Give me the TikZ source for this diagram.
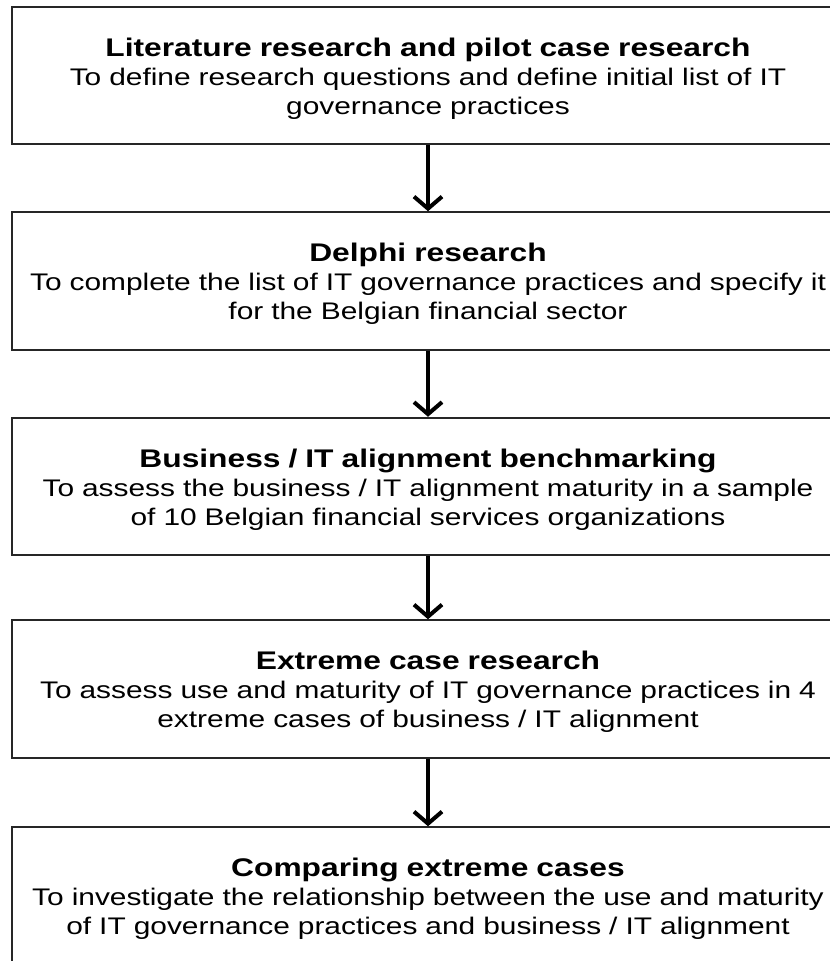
\documentclass[tikz,border=0pt]{standalone}
\usepackage{fontspec}
\setmainfont{Liberation Sans}[FakeStretch=1.245]
\usetikzlibrary{positioning}
\usetikzlibrary{arrows.meta}

\tikzset{
  stagebox/.style={draw=black!85, line width=2bp, fill=white, minimum width=832bp, minimum height=137.5bp, text width=828bp, align=center, inner sep=0pt, font=\fontsize{24bp}{29bp}\selectfont},
  stagearrow/.style={line width=4bp, -{Straight Barb[length=12bp,width=28bp]}}
}
\newcommand{\stagetitle}[1]{{\fontsize{25.5bp}{29bp}\selectfont\bfseries\rule{0pt}{24.5bp}#1}}

\begin{document}
\begin{tikzpicture}[x=1bp,y=-1bp]
\useasboundingbox (0,0) rectangle (830,961);
\node[stagebox] (lit) at (428,75.5) {\stagetitle{Literature research and pilot case research}\\To define research questions and define initial list of IT\\governance practices};
\node[stagebox] (delphi) at (428,281) {\stagetitle{Delphi research}\\To complete the list of IT governance practices and specify it\\for the Belgian financial sector};
\node[stagebox] (bench) at (428,486.5) {\stagetitle{Business / IT alignment benchmarking}\\To assess the business / IT alignment maturity in a sample\\of 10 Belgian financial services organizations};
\node[stagebox] (extreme) at (428,689) {\stagetitle{Extreme case research}\\To assess use and maturity of IT governance practices in 4\\extreme cases of business / IT alignment};
\node[stagebox] (compare) at (428,896) {\stagetitle{Comparing extreme cases}\\To investigate the relationship between the use and maturity\\of IT governance practices and business / IT alignment};

\draw[stagearrow] (lit) -- (delphi);
\draw[stagearrow] (delphi) -- (bench);
\draw[stagearrow] (bench) -- (extreme);
\draw[stagearrow] (extreme) -- (compare);
\end{tikzpicture}
\end{document}
